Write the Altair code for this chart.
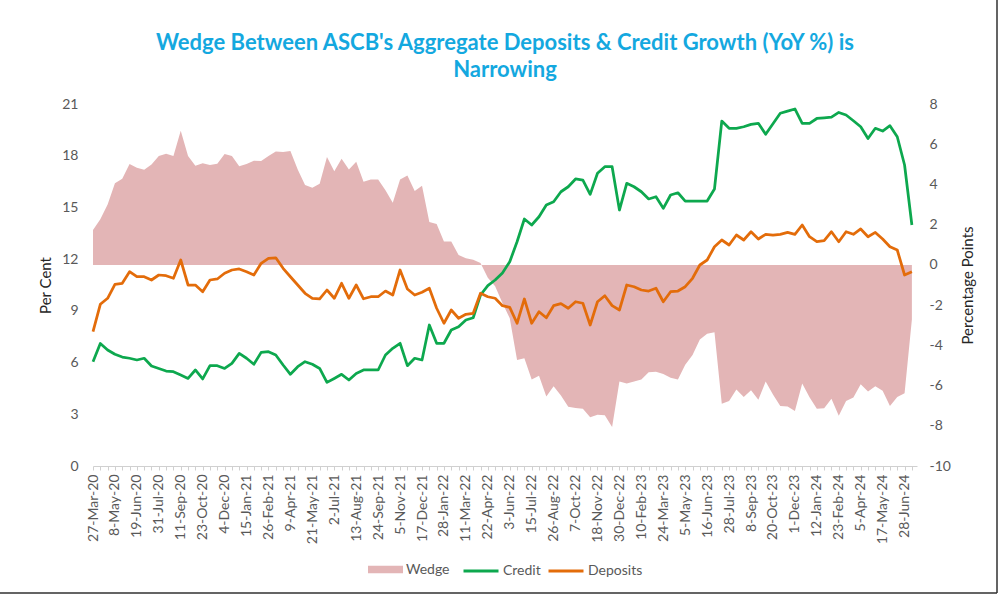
import altair as alt
import pandas as pd

# ---------------- data ----------------
tick_labels = [
    "27-Mar-20", "8-May-20", "19-Jun-20", "31-Jul-20", "11-Sep-20", "23-Oct-20",
    "4-Dec-20", "15-Jan-21", "26-Feb-21", "9-Apr-21", "21-May-21", "2-Jul-21",
    "13-Aug-21", "24-Sep-21", "5-Nov-21", "17-Dec-21", "28-Jan-22", "11-Mar-22",
    "22-Apr-22", "3-Jun-22", "15-Jul-22", "26-Aug-22", "7-Oct-22", "18-Nov-22",
    "30-Dec-22", "10-Feb-23", "24-Mar-23", "5-May-23", "16-Jun-23", "28-Jul-23",
    "8-Sep-23", "20-Oct-23", "1-Dec-23", "12-Jan-24", "23-Feb-24", "5-Apr-24",
    "17-May-24", "28-Jun-24",
]

credit = [
    6.05, 7.11, 6.73, 6.48, 6.32, 6.25, 6.15, 6.25, 5.80, 5.66,
    5.51, 5.47, 5.28, 5.08, 5.57, 5.05, 5.82, 5.82, 5.66, 5.95,
    6.53, 6.25, 5.90, 6.59, 6.63, 6.44, 5.86, 5.32, 5.76, 6.05,
    5.90, 5.66, 4.85, 5.08, 5.32, 4.99, 5.37, 5.57, 5.57, 5.57,
    6.44, 6.83, 7.12, 5.82, 6.25, 6.15, 8.18, 7.12, 7.12, 7.89,
    8.08, 8.47, 8.60, 9.92, 10.46, 10.79, 11.20, 11.85, 13.01, 14.33,
    13.98, 14.46, 15.14, 15.33, 15.91, 16.20, 16.65, 16.59, 15.76, 16.98,
    17.36, 17.36, 14.85, 16.40, 16.20, 15.91, 15.49, 15.62, 14.95, 15.72,
    15.85, 15.37, 15.37, 15.37, 15.37, 16.07, 20.01, 19.59, 19.59, 19.68,
    19.82, 19.88, 19.24, 19.85, 20.46, 20.59, 20.71, 19.88, 19.88, 20.16,
    20.20, 20.24, 20.51, 20.36, 20.03, 19.68, 19.00, 19.59, 19.43, 19.74,
    19.10, 17.46, 13.98,
]

deposits = [
    7.79, 9.38, 9.73, 10.54, 10.60, 11.27, 10.98, 10.98, 10.79, 11.08,
    11.04, 10.89, 11.95, 10.50, 10.50, 10.11, 10.79, 10.85, 11.18, 11.37,
    11.43, 11.27, 11.08, 11.76, 12.05, 12.08, 11.47, 10.98, 10.50, 10.02,
    9.73, 9.69, 10.21, 9.73, 10.60, 9.73, 10.50, 9.70, 9.82, 9.82,
    10.15, 9.92, 11.37, 10.27, 9.92, 10.08, 10.31, 9.15, 8.28, 9.05,
    8.57, 8.80, 8.86, 10.02, 9.82, 9.73, 9.30, 9.20, 8.28, 9.69,
    8.28, 8.95, 8.60, 9.30, 9.42, 9.15, 9.53, 9.44, 8.18, 9.53,
    9.88, 9.30, 9.05, 10.50, 10.40, 10.21, 10.15, 10.31, 9.53, 10.11,
    10.15, 10.40, 10.89, 11.66, 11.95, 12.72, 13.11, 12.82, 13.40, 13.11,
    13.59, 13.17, 13.44, 13.40, 13.44, 13.55, 13.44, 13.98, 13.30, 13.01,
    13.07, 13.59, 13.01, 13.59, 13.44, 13.75, 13.30, 13.55, 13.17, 12.72,
    12.53, 11.08, 11.27,
]

wedge = [
    1.74, 2.27, 3.00, 4.06, 4.28, 5.02, 4.83, 4.73, 4.99, 5.42,
    5.53, 5.42, 6.67, 5.42, 4.93, 5.06, 4.97, 5.03, 5.52, 5.42,
    4.90, 5.02, 5.18, 5.17, 5.42, 5.64, 5.61, 5.66, 4.74, 3.97,
    3.83, 4.03, 5.36, 4.65, 5.28, 4.74, 5.13, 4.13, 4.25, 4.25,
    3.71, 3.09, 4.25, 4.45, 3.67, 3.93, 2.13, 2.03, 1.16, 1.16,
    0.49, 0.33, 0.26, 0.10, -0.64, -1.06, -1.90, -2.65, -4.73, -4.64,
    -5.70, -5.51, -6.54, -6.03, -6.49, -7.05, -7.12, -7.15, -7.58, -7.45,
    -7.48, -8.06, -5.80, -5.90, -5.80, -5.70, -5.34, -5.31, -5.42, -5.61,
    -5.70, -4.97, -4.48, -3.71, -3.42, -3.35, -6.90, -6.77, -6.19, -6.57,
    -6.23, -6.71, -5.80, -6.45, -7.02, -7.04, -7.27, -5.90, -6.58, -7.15,
    -7.13, -6.65, -7.50, -6.77, -6.59, -5.93, -6.30, -6.04, -6.26, -7.02,
    -6.57, -6.38, -2.71,
]

# ---------------- styling ----------------
FONT = "Lato"
PINK = "#E3B5B6"
GREEN = "#0DA84E"
ORANGE = "#E36C0A"
BLUE = "#14A8DF"
TXT = "#595959"

n = len(credit)
df = pd.DataFrame({
    "i": list(range(n)),
    "Credit": credit,
    "Deposits": deposits,
    "Wedge": wedge,
    "wname": ["Wedge"] * n,
})

label_js = "[" + ",".join(f"'{t}'" for t in tick_labels) + "]"

x_enc = alt.X(
    "i:Q",
    scale=alt.Scale(domain=[0, 112.7], nice=False, zero=False),
    axis=alt.Axis(
        values=list(range(n)),
        labelExpr=f"datum.value % 3 == 0 ? {label_js}[datum.value / 3] : ''",
        labelAngle=270,
        labelOverlap=False,
        labelFlush=False,
        labelPadding=4,
        tickSize=4,
        tickColor="#D0D0D0",
        domainColor="#D0D0D0",
        grid=False,
        title=None,
        labelFont=FONT,
        labelFontSize=14,
        labelColor=TXT,
    ),
)

area = alt.Chart(df).mark_area(opacity=1).encode(
    x=x_enc,
    y=alt.Y(
        "Wedge:Q",
        scale=alt.Scale(domain=[-10, 8], nice=False, zero=False),
        axis=alt.Axis(
            orient="right",
            values=list(range(-10, 9, 2)),
            labelExpr="'' + datum.value",
            title="Percentage Points",
            titleAngle=270,
            titleX=50,
            titleY=181,
            titleAlign="center",
            titleBaseline="middle",
            titleFont=FONT,
            titleFontSize=15,
            titleFontWeight="normal",
            titleColor="#262626",
            ticks=False,
            domain=False,
            grid=False,
            labelPadding=12,
            labelFont=FONT,
            labelFontSize=14,
            labelColor=TXT,
        ),
    ),
    y2=alt.datum(0),
    fill=alt.Fill(
        "wname:N",
        scale=alt.Scale(domain=["Wedge"], range=[PINK]),
        legend=alt.Legend(
            orient="none",
            legendX=275,
            legendY=448,
            direction="horizontal",
            title=None,
            symbolType="M-1,-0.21H1V0.21H-1Z",
            symbolSize=1225,
            symbolStrokeWidth=0,
            symbolOpacity=1,
            labelOffset=3,
            labelFont=FONT,
            labelFontSize=14,
            labelColor=TXT,
        ),
    ),
)

lines = alt.Chart(df).transform_fold(
    ["Credit", "Deposits"], as_=["series", "value"]
).mark_line(strokeWidth=2.75, strokeJoin="round").encode(
    x=x_enc,
    y=alt.Y(
        "value:Q",
        scale=alt.Scale(domain=[0, 21], nice=False),
        axis=alt.Axis(
            orient="left",
            values=list(range(0, 22, 3)),
            title="Per Cent",
            titleAngle=270,
            titleX=-48,
            titleY=181,
            titleAlign="center",
            titleBaseline="middle",
            titleFont=FONT,
            titleFontSize=15,
            titleFontWeight="normal",
            titleColor="#262626",
            ticks=False,
            domain=False,
            grid=False,
            labelPadding=15,
            labelFont=FONT,
            labelFontSize=14,
            labelColor=TXT,
        ),
    ),
    stroke=alt.Stroke(
        "series:N",
        scale=alt.Scale(domain=["Credit", "Deposits"], range=[GREEN, ORANGE]),
        legend=alt.Legend(
            orient="none",
            legendX=369,
            legendY=448,
            direction="horizontal",
            title=None,
            symbolType="stroke",
            symbolSize=1225,
            symbolStrokeWidth=3,
            columnPadding=1,
            labelOffset=3,
            labelFont=FONT,
            labelFontSize=14,
            labelColor=TXT,
        ),
    ),
)

frame_df = pd.DataFrame({"k": [0]})
frame_right = alt.Chart(frame_df).mark_rule(color="#303030", strokeWidth=1.5).encode(
    x=alt.value(904), y=alt.value(-104), y2=alt.value(489)
)
frame_bottom = alt.Chart(frame_df).mark_rule(color="#303030", strokeWidth=1.5).encode(
    x=alt.value(-93), x2=alt.value(904), y=alt.value(489)
)

chart = alt.layer(area, lines, frame_right, frame_bottom).resolve_scale(
    y="independent", stroke="independent", fill="independent"
).properties(
    width=824,
    height=362,
    padding={"left": 93, "top": 104, "right": 91, "bottom": 134},
    autosize=alt.AutoSizeParams(type="none"),
    background="white",
    title=alt.TitleParams(
        text=["Wedge Between ASCB's Aggregate Deposits & Credit Growth (YoY %) is", "Narrowing"],
        font=FONT,
        fontSize=22,
        fontWeight="bold",
        color=BLUE,
        anchor="middle",
        lineHeight=27,
        offset=0,
        baseline="bottom",
        dy=105,
    ),
).configure_view(strokeWidth=0)

chart.save("out.html", embed_options={"renderer": "svg", "actions": False})
